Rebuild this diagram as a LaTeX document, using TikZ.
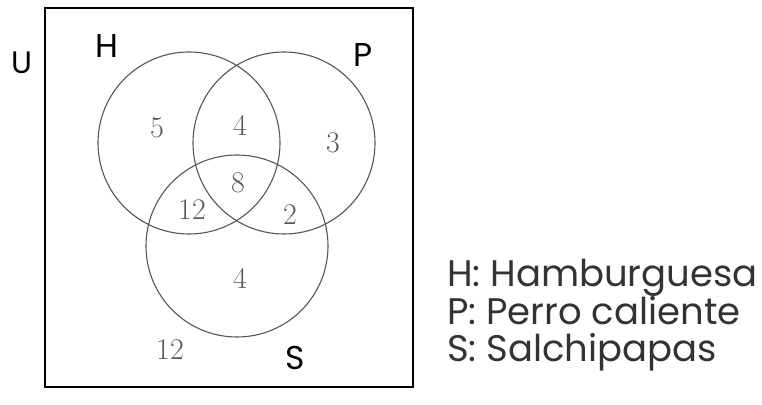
\documentclass[tikz,border=0pt]{standalone}
\usepackage{fontspec}
\setsansfont{Poppins}
\usetikzlibrary{positioning}
\definecolor{cRING}{HTML}{555555}

\begin{document}
\begin{tikzpicture}[x=1pt, y=1pt,
  ring/.style={draw=cRING, line width=1.1pt},
  setname/.style={font=\sffamily\fontsize{33}{36}\selectfont, inner sep=0pt},
  count/.style={font=\fontsize{30}{32}\selectfont, text=black!65, inner sep=0pt},
  legend/.style={font=\sffamily\fontsize{37}{40}\selectfont, text=black!80, anchor=base west, inner sep=0pt},
]
\useasboundingbox (0,0) rectangle (762,404);
% universe and the three sets
\draw[line width=1.6pt] (45,396) rectangle (413,17);
\coordinate (cH) at (189,261);
\coordinate (cP) at (284,261);
\coordinate (cS) at (237,158);
\foreach \c in {cH, cP, cS}
  \draw[ring] (\c) circle[radius=91];
% set names
\node[setname, font=\sffamily\fontsize{31}{34}\selectfont] (lU) at (22,341) {U};
\node[setname] (lH) at (107,358) {H};
\node[setname] (lP) at (363,349) {P};
\node[setname] (lS) at (295,46) {S};
% region counts
\node[count] (nH)   at (157,276) {5};
\node[count] (nHP)  at (240,279) {4};
\node[count] (nP)   at (333,261) {3};
\node[count] (nHPS) at (238,221) {8};
\node[count] (nHS)  at (192,194) {12};
\node[count] (nPS)  at (290,189) {2};
\node[count] (nS)   at (240,126) {4};
\node[count] (nU)   at (170,54)  {12};
% legend
\node[legend] (kH) at (447,117) {H: Hamburguesa};
\node[legend, below=37.5pt of kH.base west, anchor=base west] (kP) {P: Perro caliente};
\node[legend, below=37.5pt of kP.base west, anchor=base west] (kS) {S: Salchipapas};
\end{tikzpicture}
\end{document}
